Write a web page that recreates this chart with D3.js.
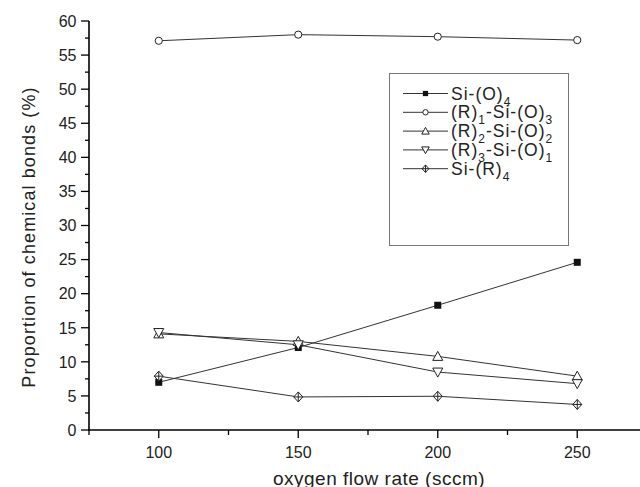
<!DOCTYPE html>
<html>
<head>
<meta charset="utf-8">
<script src="https://cdn.jsdelivr.net/npm/d3@7"></script>
<style>
  body { margin: 0; background: #fff; }
  svg { display: block; font-family: "Liberation Sans", Arial, sans-serif; }
</style>
</head>
<body>
<svg id="chart" width="640" height="487"></svg>
<script>
// Data
// ----
var flowRates = [100, 150, 200, 250];
var siO4   = [7.0, 12.1, 18.3, 24.6];
var r1SiO3 = [57.1, 58.0, 57.7, 57.2];
var r2SiO2 = [14.1, 13.0, 10.8, 7.9];
var r3SiO1 = [14.3, 12.5, 8.5, 6.8];
var siR4   = [7.9, 4.85, 4.95, 3.75];

var xTicks = [100, 150, 200, 250];
var yTicks = [0, 5, 10, 15, 20, 25, 30, 35, 40, 45, 50, 55, 60];

// legend text: [text, isSubscript]
var series = [
  { name: [["Si-(O)", 0], ["4", 1]], values: siO4, marker: "square" },
  { name: [["(R)", 0], ["1", 1], ["-Si-(O)", 0], ["3", 1]], values: r1SiO3, marker: "circle" },
  { name: [["(R)", 0], ["2", 1], ["-Si-(O)", 0], ["2", 1]], values: r2SiO2, marker: "up" },
  { name: [["(R)", 0], ["3", 1], ["-Si-(O)", 0], ["1", 1]], values: r3SiO1, marker: "down" },
  { name: [["Si-(R)", 0], ["4", 1]], values: siR4, marker: "diamond" }
];

// Scales
// ------
var svg = d3.select("#chart");
var xScale = d3.scaleLinear().domain([75, 275]).range([89, 647]);
var yScale = d3.scaleLinear().domain([0, 60]).range([430, 21]);

// Axes
// ----
var yAxis = svg.append("g").attr("transform", "translate(89,0)");
yAxis.append("line")
  .attr("x1", 0).attr("x2", 0)
  .attr("y1", yScale(0)).attr("y2", yScale(60))
  .attr("stroke", "#000").attr("stroke-width", 1.6);
yAxis.selectAll(".minor")
  .data(d3.range(2.5, 60, 5))
  .enter().append("line")
  .attr("x1", -4).attr("x2", 0)
  .attr("y1", function(d) { return yScale(d); })
  .attr("y2", function(d) { return yScale(d); })
  .attr("stroke", "#000").attr("stroke-width", 1.3);
yAxis.selectAll(".major")
  .data(yTicks)
  .enter().append("line")
  .attr("x1", -8).attr("x2", 0)
  .attr("y1", function(d) { return yScale(d); })
  .attr("y2", function(d) { return yScale(d); })
  .attr("stroke", "#000").attr("stroke-width", 1.3);
yAxis.selectAll(".lbl")
  .data(yTicks)
  .enter().append("text")
  .attr("x", -12.5)
  .attr("y", function(d) { return yScale(d); })
  .attr("dy", "0.36em")
  .attr("text-anchor", "end")
  .attr("font-size", 16)
  .attr("fill", "#222")
  .text(function(d) { return d; });

var xAxis = svg.append("g").attr("transform", "translate(0,430)");
xAxis.append("line")
  .attr("x1", 88).attr("x2", 640)
  .attr("y1", 0).attr("y2", 0)
  .attr("stroke", "#000").attr("stroke-width", 1.6);
xAxis.selectAll(".minor")
  .data([75, 125, 175, 225])
  .enter().append("line")
  .attr("x1", function(d) { return xScale(d); })
  .attr("x2", function(d) { return xScale(d); })
  .attr("y1", 0).attr("y2", 5)
  .attr("stroke", "#000").attr("stroke-width", 1.3);
xAxis.selectAll(".major")
  .data(xTicks)
  .enter().append("line")
  .attr("x1", function(d) { return xScale(d); })
  .attr("x2", function(d) { return xScale(d); })
  .attr("y1", 0).attr("y2", 8)
  .attr("stroke", "#000").attr("stroke-width", 1.3);
xAxis.selectAll(".lbl")
  .data(xTicks)
  .enter().append("text")
  .attr("x", function(d) { return xScale(d); })
  .attr("y", 28)
  .attr("text-anchor", "middle")
  .attr("font-size", 16)
  .attr("fill", "#222")
  .text(function(d) { return d; });

// Axis titles
// -----------
svg.append("text")
  .attr("transform", "translate(35,237) rotate(-90)")
  .attr("text-anchor", "middle")
  .attr("font-size", 18)
  .attr("letter-spacing", 1.1)
  .attr("fill", "#222")
  .text("Proportion of chemical bonds (%)");

svg.append("text")
  .attr("x", 379).attr("y", 485)
  .attr("text-anchor", "middle")
  .attr("font-size", 19)
  .attr("letter-spacing", 0.5)
  .attr("fill", "#222")
  .text("oxygen flow rate (sccm)");

// Markers
// -------
function drawMarker(g, type, k) {
  k = k || 1;
  var sw = 1 / k;
  g.attr("transform", (g.attr("transform") || "") + " scale(" + k + ")");
  if (type === "square") {
    g.append("rect").attr("x", -3.5).attr("y", -3.5).attr("width", 7).attr("height", 7)
      .attr("fill", "#111");
  } else if (type === "circle") {
    g.append("circle").attr("r", 3.6).attr("fill", "#fff").attr("stroke", "#222").attr("stroke-width", sw);
  } else if (type === "up") {
    g.append("path").attr("d", "M0,-5L5,4L-5,4Z").attr("fill", "#fff").attr("stroke", "#222").attr("stroke-width", sw);
  } else if (type === "down") {
    g.append("path").attr("d", "M0,5L5,-4L-5,-4Z").attr("fill", "#fff").attr("stroke", "#222").attr("stroke-width", sw);
  } else if (type === "diamond") {
    g.append("path").attr("d", "M0,-5L4.5,0L0,5L-4.5,0Z").attr("fill", "#fff").attr("stroke", "#222").attr("stroke-width", sw);
    g.append("path").attr("d", "M0,-5V5M-4.5,0H4.5").attr("stroke", "#222").attr("stroke-width", sw);
  }
}

// Lines + points
// --------------
var line = d3.line()
  .x(function(d, i) { return xScale(flowRates[i]); })
  .y(function(d) { return yScale(d); });

var plot = svg.append("g");
series.forEach(function(s) {
  plot.append("path")
    .attr("d", line(s.values))
    .attr("fill", "none")
    .attr("stroke", "#333")
    .attr("stroke-width", 1);
});
series.forEach(function(s) {
  plot.selectAll(null)
    .data(s.values)
    .enter().append("g")
    .attr("transform", function(d, i) { return "translate(" + xScale(flowRates[i]) + "," + yScale(d) + ")"; })
    .each(function() { drawMarker(d3.select(this), s.marker); });
});

// Legend
// ------
var legend = svg.append("g");
legend.append("rect")
  .attr("x", 389.5).attr("y", 73.5)
  .attr("width", 179).attr("height", 172)
  .attr("fill", "#fff").attr("stroke", "#777").attr("stroke-width", 1);

series.forEach(function(s, i) {
  var y = 93.5 + i * 18.8;
  var row = legend.append("g");
  row.append("line")
    .attr("x1", 403).attr("x2", 448).attr("y1", y).attr("y2", y)
    .attr("stroke", "#333").attr("stroke-width", 1);
  var m = row.append("g").attr("transform", "translate(425.5," + y + ")");
  drawMarker(m, s.marker, 0.75);
  var t = row.append("text")
    .attr("x", 451).attr("y", y + 6)
    .attr("font-size", 17.5)
    .attr("letter-spacing", 1)
    .attr("fill", "#222");
  s.name.forEach(function(p, j) {
    t.append("tspan")
      .attr("font-size", p[1] ? 12 : 17.5)
      .attr("dy", j === 0 ? 0 : (p[1] ? 6 : -6))
      .text(p[0]);
  });
});
</script>
</body>
</html>
